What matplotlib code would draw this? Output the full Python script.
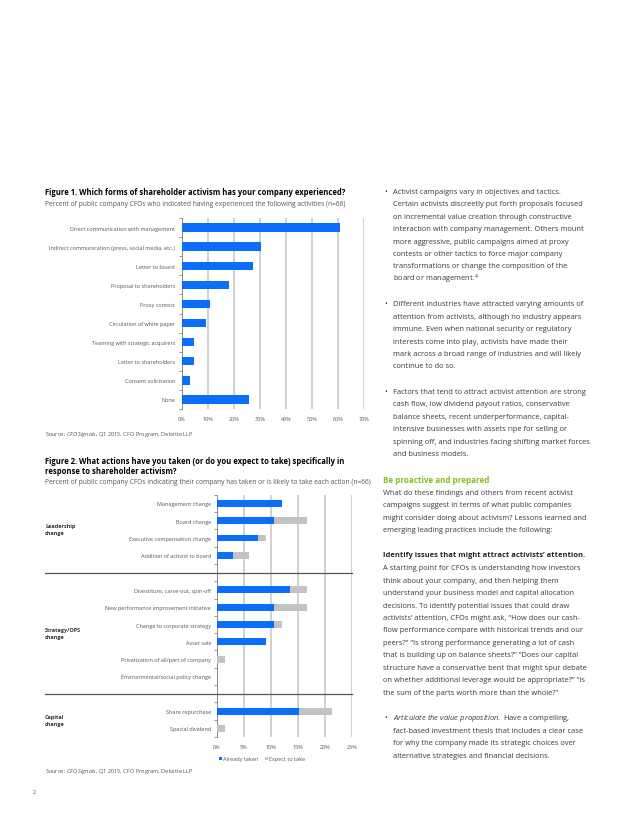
import numpy as np
import matplotlib
matplotlib.use("Agg")
from matplotlib import pyplot as plt
from matplotlib.transforms import blended_transform_factory

plt.rcParams['font.family'] = ['Open Sans', 'DejaVu Sans']
plt.rcParams['mathtext.fontset'] = 'custom'
plt.rcParams['mathtext.rm'] = 'Open Sans'
plt.rcParams['mathtext.it'] = 'Open Sans:italic'
plt.rcParams['mathtext.bf'] = 'Open Sans:bold'

# Figure 1 data (percent of CFOs, n=66)
fig1_labels = ["Direct communication with management",
               "Indirect communication (press, social media, etc.)",
               "Letter to board", "Proposal to shareholders", "Proxy contest",
               "Circulation of white paper", "Teaming with strategic acquirers",
               "Letter to shareholders", "Consent solicitation", "None"]
fig1_values = [60.6, 30.3, 27.3, 18.2, 10.6, 9.1, 4.5, 4.5, 3.0, 25.8]
fig1_ticks = [0, 10, 20, 30, 40, 50, 60, 70]

# Figure 2 data, one list per group
fig2_groups = ["Leadership\nchange", "Strategy/OPS\nchange", "Capital\nchange"]
leadership_actions = ["Management change", "Board change",
                      "Executive compensation change", "Addition of activist to board"]
leadership_taken = [12.1, 10.6, 7.6, 3.0]
leadership_expect = [0.0, 6.1, 1.5, 3.0]
strategy_actions = ["Divestiture, carve-out, spin-off",
                    "New performance improvement initiative",
                    "Change to corporate strategy", "Asset sale",
                    "Privatization of all/part of company",
                    "Environmental/social policy change"]
strategy_taken = [13.6, 10.6, 10.6, 9.1, 0.0, 0.0]
strategy_expect = [3.0, 6.1, 1.5, 0.0, 1.5, 0.0]
capital_actions = ["Share repurchase", "Special dividend"]
capital_taken = [15.2, 0.0]
capital_expect = [6.1, 1.5]
fig2_ticks = [0, 5, 10, 15, 20, 25]

BLUE = "#0A6EFA"
GREY = "#C3C3C3"
GRID = "#C8C8C8"
TXT = "#3a3a3a"
LBL = "#555555"

W, H = 640, 828
fig = plt.figure(figsize=(W / 100, H / 100), dpi=100)


def fx(px):
    return px / W


def fy(py):
    return 1 - py / H


# ---------------- Figure 1 ----------------
fig.text(fx(45), fy(192.7), "Figure 1. Which forms of shareholder activism has your company experienced?",
         fontsize=5.5, fontweight='bold', color='black', va='center')
fig.text(fx(45), fy(204), "Percent of public company CFOs who indicated having experienced the following activities (n=66)",
         fontsize=4.75, color=LBL, va='center')

ax1 = fig.add_axes([fx(182), fy(410), fx(364) - fx(182), fy(219) - fy(410)])
y1 = np.arange(len(fig1_labels))
ax1.barh(y1, fig1_values, height=0.44, color=BLUE, zorder=3)
ax1.set_xlim(0, 70)
ax1.set_ylim(len(fig1_labels) - 0.5, -0.5)
ax1.set_yticks(y1)
ax1.set_yticklabels(fig1_labels, fontsize=4.0, color=LBL)
ax1.set_yticks(np.arange(len(fig1_labels) + 1) - 0.5, minor=True)
ax1.tick_params(axis='y', which='major', length=0, pad=5)
ax1.tick_params(axis='y', which='minor', length=2.5, color='#888888', width=0.6)
ax1.set_xticks(fig1_ticks)
ax1.set_xticklabels([f"{t}%" for t in fig1_ticks], fontsize=4.0, color=LBL)
ax1.tick_params(axis='x', length=0, pad=5)
for t in fig1_ticks[1:]:
    ax1.axvline(t, color=GRID, lw=1.2, zorder=1)
for s in ['top', 'right', 'bottom']:
    ax1.spines[s].set_visible(False)
ax1.spines['left'].set_color('#888888')
ax1.spines['left'].set_linewidth(0.7)

fig.text(fx(45), fy(435), r"Source: $\mathit{CFO\ Signals}$, Q1 2015, CFO Program, Deloitte LLP",
         fontsize=4.1, color=LBL, va='center')

# ---------------- Figure 2 ----------------
fig.text(fx(45), fy(461.7), "Figure 2. What actions have you taken (or do you expect to take) specifically in",
         fontsize=5.5, fontweight='bold', color='black', va='center')
fig.text(fx(45), fy(471.7), "response to shareholder activism?",
         fontsize=5.5, fontweight='bold', color='black', va='center')
fig.text(fx(45), fy(483), "Percent of public company CFOs indicating their company has taken or is likely to take each action (n=66)",
         fontsize=4.75, color=LBL, va='center')

groups = [(leadership_actions, leadership_taken, leadership_expect),
          (strategy_actions, strategy_taken, strategy_expect),
          (capital_actions, capital_taken, capital_expect)]
labels2, taken2, expect2, pos2, seps, mids = [], [], [], [], [], []
slot = 0
for gi, (acts, tk, ex) in enumerate(groups):
    start = slot
    for a, t, e in zip(acts, tk, ex):
        labels2.append(a)
        taken2.append(t)
        expect2.append(e)
        pos2.append(slot)
        slot += 1
    mids.append((start + slot - 1) / 2)
    if gi < len(groups) - 1:
        seps.append(slot)
        slot += 1
nslots = slot

ax2 = fig.add_axes([fx(216.7), fy(738), fx(352) - fx(216.7), fy(495.7) - fy(738)])
taken2 = np.array(taken2)
expect2 = np.array(expect2)
ax2.barh(pos2, taken2, height=0.4, color=BLUE, zorder=3, label="Already taken")
ax2.barh(pos2, expect2, left=taken2, height=0.4, color=GREY, zorder=3, label="Expect to take")
ax2.set_xlim(0, 25)
ax2.set_ylim(nslots - 0.5, -0.5)
ax2.set_yticks(pos2)
ax2.set_yticklabels(labels2, fontsize=4.0, color=LBL)
ax2.set_yticks(np.arange(nslots + 1) - 0.5, minor=True)
ax2.tick_params(axis='y', which='major', length=0, pad=4)
ax2.tick_params(axis='y', which='minor', length=2.0, color='#888888', width=0.6)
ax2.set_xticks(fig2_ticks)
ax2.set_xticklabels([f"{t}%" for t in fig2_ticks], fontsize=4.0, color=LBL)
ax2.tick_params(axis='x', length=0, pad=5)
for t in fig2_ticks[1:]:
    ax2.axvline(t, color=GRID, lw=1.2, zorder=1)
for s in ['top', 'right', 'bottom']:
    ax2.spines[s].set_visible(False)
ax2.spines['left'].set_color('#888888')
ax2.spines['left'].set_linewidth(0.7)

x_left = (45 - 216.7) / (352 - 216.7)
for s in seps:
    ax2.axhline(s, xmin=x_left, xmax=1.0, color='#555555', lw=0.9, clip_on=False, zorder=4)

tr = blended_transform_factory(fig.transFigure, ax2.transData)
for g, m in zip(fig2_groups, mids):
    ax2.text(fx(45), m, g, transform=tr, fontsize=4.0, fontweight='bold', color='#333333',
             va='center', ha='left', linespacing=1.5)

fig.legend(loc='center', bbox_to_anchor=(fx(262), fy(760)), ncol=2, frameon=False,
           fontsize=4.0, handlelength=0.5, handleheight=0.5, handletextpad=0.2,
           columnspacing=1.2, labelcolor=LBL)

fig.text(fx(45), fy(772), r"Source: $\mathit{CFO\ Signals}$, Q1 2015, CFO Program, Deloitte LLP",
         fontsize=4.1, color=LBL, va='center')
fig.text(fx(33), fy(793), "2", fontsize=4.0, color=LBL, va='center')

# ---------------- Right column text ----------------
BX, TX = 384.5, 392.7
BODY = 5.4
LS = 12.45


def para(lines, y0, x=TX, bullet=False, **kw):
    if bullet:
        fig.text(fx(BX), fy(y0), "\u2022", fontsize=BODY, color=TXT, va='center')
    for i, ln in enumerate(lines):
        fig.text(fx(x), fy(y0 + i * LS), ln, fontsize=BODY, color=TXT, va='center', **kw)


para(["Activist campaigns vary in objectives and tactics.",
      "Certain activists discreetly put forth proposals focused",
      "on incremental value creation through constructive",
      "interaction with company management. Others mount",
      "more aggressive, public campaigns aimed at proxy",
      "contests or other tactics to force major company",
      "transformations or change the composition of the",
      r"board or management.$^{4}$"], 192.3, bullet=True)
para(["Different industries have attracted varying amounts of",
      "attention from activists, although no industry appears",
      "immune. Even when national security or regulatory",
      "interests come into play, activists have made their",
      "mark across a broad range of industries and will likely",
      "continue to do so."], 304.7, bullet=True)
para(["Factors that tend to attract activist attention are strong",
      "cash flow, low dividend payout ratios, conservative",
      "balance sheets, recent underperformance, capital-",
      "intensive businesses with assets ripe for selling or",
      "spinning off, and industries facing shifting market forces",
      "and business models."], 392.3, bullet=True)

fig.text(fx(383.3), fy(480.7), "Be proactive and prepared", fontsize=5.8, fontweight='bold',
         color='#86BC25', va='center')
para(["What do these findings and others from recent activist",
      "campaigns suggest in terms of what public companies",
      "might consider doing about activism? Lessons learned and",
      "emerging leading practices include the following:"], 493.3, x=383.3)
fig.text(fx(383.3), fy(556), "Identify issues that might attract activists\u2019 attention.",
         fontsize=BODY, fontweight='bold', color='#222222', va='center')
para(["A starting point for CFOs is understanding how investors",
      "think about your company, and then helping them",
      "understand your business model and capital allocation",
      "decisions. To identify potential issues that could draw",
      "activists\u2019 attention, CFOs might ask, \u201cHow does our cash-",
      "flow performance compare with historical trends and our",
      "peers?\u201d \u201cIs strong performance generating a lot of cash",
      "that is building up on balance sheets?\u201d \u201cDoes our capital",
      "structure have a conservative bent that might spur debate",
      "on whether additional leverage would be appropriate?\u201d \u201cIs",
      "the sum of the parts worth more than the whole?\u201d"], 568.7, x=383.3)
para([r"$\mathit{Articulate\ the\ value\ proposition.}$ Have a compelling,",
      "fact-based investment thesis that includes a clear case",
      "for why the company made its strategic choices over",
      "alternative strategies and financial decisions."], 718.7, bullet=True)

fig.savefig("out.png", dpi=100)
